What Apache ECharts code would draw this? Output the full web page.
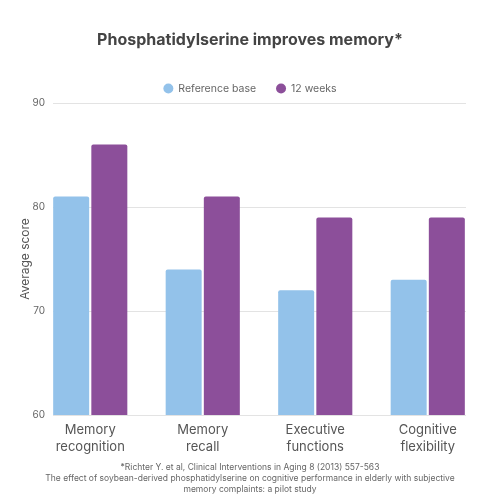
<!DOCTYPE html>
<html>
<head>
<meta charset="utf-8">
<script src="https://cdn.jsdelivr.net/npm/echarts@6/dist/echarts.min.js"></script>
<style>
html, body { margin: 0; padding: 0; background: #fff; }
#main { width: 500px; height: 500px; }
</style>
</head>
<body>
<div id="main"></div>
<script>
var categories = ['Memory\nrecognition', 'Memory\nrecall', 'Executive\nfunctions', 'Cognitive\nflexibility'];
var baseValues = [81, 74, 72, 73];
var weekValues = [86, 81, 79, 79];
var seriesNames = ['Reference base', '12 weeks'];
var footnote = '*Richter Y. et al, Clinical Interventions in Aging 8 (2013) 557-563\n' +
    'The effect of soybean-derived phosphatidylserine on cognitive performance in elderly with subjective\n' +
    'memory complaints: a pilot study';

var FONT = 'Inter, "Noto Sans", sans-serif';

var myChart = echarts.init(document.getElementById('main'));
var option = {
    textStyle: { fontFamily: FONT },
    color: ['#93C2EA', '#8C4F9A'],
    title: {
        text: 'Phosphatidylserine improves memory*',
        left: 'center',
        top: 27,
        textStyle: { fontSize: 16, fontWeight: 'bold', color: '#444', fontFamily: FONT }
    },
    graphic: [
        {
            type: 'text',
            left: 'center',
            top: 462,
            style: {
                text: footnote,
                fill: '#666',
                font: '8.5px ' + FONT,
                lineHeight: 11,
                textAlign: 'center'
            }
        }
    ],
    legend: {
        data: seriesNames,
        top: 78,
        left: 'center',
        icon: 'circle',
        itemWidth: 10,
        itemHeight: 10,
        itemGap: 20,
        textStyle: { fontSize: 10.5, color: '#666' }
    },
    grid: [
        { left: 53, right: 34, top: 103, bottom: 85 },   // gridlines + y labels
        { left: 34, right: 16, top: 103, bottom: 85 }    // bars
    ],
    xAxis: [
        { gridIndex: 0, type: 'category', data: categories, show: false },
        {
            gridIndex: 1,
            type: 'category',
            data: categories,
            axisLine: { show: false },
            axisTick: { show: false },
            axisLabel: { fontSize: 13, color: '#555', lineHeight: 17, margin: 7 }
        }
    ],
    yAxis: [
        {
            gridIndex: 0,
            type: 'value',
            min: 60,
            max: 90,
            interval: 10,
            name: 'Average score',
            nameLocation: 'middle',
            nameGap: 22,
            nameMoveOverlap: false,
            nameTextStyle: { fontSize: 12, color: '#555' },
            axisLine: { show: false },
            axisTick: { show: false },
            axisLabel: { fontSize: 10, color: '#666', margin: 8 },
            splitLine: { lineStyle: { color: '#e3e3e3', width: 1 } }
        },
        {
            gridIndex: 1,
            type: 'value',
            min: 60,
            max: 90,
            interval: 10,
            show: false,
            splitLine: { show: false }
        }
    ],
    series: [
        {
            name: seriesNames[0],
            type: 'bar',
            xAxisIndex: 1,
            yAxisIndex: 1,
            barWidth: 36,
            barGap: '6%',
            itemStyle: { borderRadius: [2, 2, 0, 0] },
            data: baseValues
        },
        {
            name: seriesNames[1],
            type: 'bar',
            xAxisIndex: 1,
            yAxisIndex: 1,
            barWidth: 36,
            barGap: '6%',
            itemStyle: { borderRadius: [2, 2, 0, 0] },
            data: weekValues
        }
    ]
};
myChart.setOption(option);
</script>
</body>
</html>
